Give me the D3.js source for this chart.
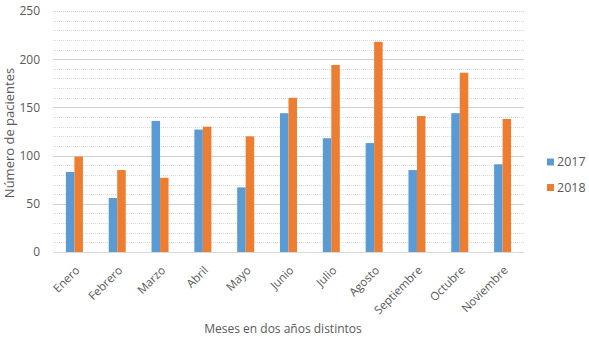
<!DOCTYPE html>
<html>
<head>
<meta charset="utf-8">
<script src="https://cdn.jsdelivr.net/npm/d3@7"></script>
<style>
  body { margin: 0; background: #fff; }
  text { font-family: "Open Sans", sans-serif; fill: #595959; }
</style>
</head>
<body>
<div id="chart"></div>
<script>
// data
const months = ["Enero", "Febrero", "Marzo", "Abril", "Mayo", "Junio", "Julio", "Agosto", "Septiembre", "Octubre", "Noviembre"];
const years = ["2017", "2018"];
const values2017 = [83, 56, 136, 127, 67, 144, 118, 113, 85, 144, 91];
const values2018 = [99, 85, 77, 130, 120, 160, 194, 218, 141, 186, 138];
const yTicks = [0, 50, 100, 150, 200, 250];
const colors = ["#5B9BD5", "#ED7D31"];

const W = 589, H = 338;
const margin = { top: 11, right: 65, bottom: 86, left: 53 },
    width = W - margin.left - margin.right,
    height = H - margin.top - margin.bottom;

const svg = d3.select("#chart")
    .append("svg")
    .attr("width", W)
    .attr("height", H)
    .append("g")
    .attr("transform", `translate(${margin.left},${margin.top})`);

const x = d3.scaleBand()
    .domain(months)
    .range([0, width]);

const x1 = d3.scaleBand()
    .domain(years)
    .range([x.bandwidth() / 2 - 8.5, x.bandwidth() / 2 + 8.5]);

const y = d3.scaleLinear()
    .domain([0, 250])
    .range([height, 0]);

// minor gridlines (every 10)
svg.append("g")
    .selectAll("line")
    .data(d3.range(10, 250, 10).filter(v => v % 50 !== 0))
    .join("line")
    .attr("x1", 0).attr("x2", width)
    .attr("y1", d => Math.round(y(d)) + 0.5)
    .attr("y2", d => Math.round(y(d)) + 0.5)
    .attr("stroke", "#d9d9d9")
    .attr("stroke-dasharray", "1,1");

// major gridlines
svg.append("g")
    .selectAll("line")
    .data(yTicks.slice(1))
    .join("line")
    .attr("x1", 0).attr("x2", width)
    .attr("y1", d => Math.round(y(d)) + 0.5)
    .attr("y2", d => Math.round(y(d)) + 0.5)
    .attr("stroke", "#d0d0d0")
    .attr("stroke-dasharray", d => d === 250 ? "1,1" : null);

// Y axis
const yAxis = svg.append("g")
    .call(d3.axisLeft(y).tickValues(yTicks).tickSize(0).tickPadding(13));
yAxis.select(".domain").remove();
yAxis.selectAll("text")
    .style("font-size", "12px")
    .attr("fill", "#595959");

// bars
const series = [values2017, values2018];
years.forEach((yr, i) => {
    svg.append("g")
        .selectAll("rect")
        .data(months)
        .join("rect")
        .attr("x", (d) => x(d) + x1(yr))
        .attr("y", (d, j) => y(series[i][j]))
        .attr("width", x1.bandwidth())
        .attr("height", (d, j) => height - y(series[i][j]))
        .attr("fill", colors[i]);
});

// X axis
const xAxis = svg.append("g")
    .attr("transform", `translate(0, ${height})`)
    .call(d3.axisBottom(x).tickSize(0));
xAxis.select(".domain").attr("stroke", "#d9d9d9");
xAxis.selectAll("text")
    .style("font-size", "11.5px")
    .attr("fill", "#595959")
    .attr("text-anchor", "end")
    .attr("x", 0)
    .attr("y", 0)
    .attr("dy", 0)
    .attr("transform", "translate(6, 19) rotate(-45)");

// axis titles
svg.append("text")
    .attr("transform", `translate(${-44}, ${122}) rotate(-90)`)
    .attr("text-anchor", "middle")
    .attr("dy", "0.35em")
    .style("font-size", "13px")
    .text("Número de pacientes");

svg.append("text")
    .attr("x", 283 - margin.left)
    .attr("y", 333 - margin.top)
    .attr("text-anchor", "middle")
    .style("font-size", "12px")
    .text("Meses en dos años distintos");

// legend
const legend = svg.append("g")
    .attr("transform", `translate(${width + 23}, 0)`);
years.forEach((yr, i) => {
    const g = legend.append("g")
        .attr("transform", `translate(0, ${151 + i * 25.5})`);
    g.append("rect")
        .attr("x", 0).attr("y", -3.5)
        .attr("width", 7).attr("height", 7)
        .attr("fill", colors[i]);
    g.append("text")
        .attr("x", 10)
        .attr("dy", "0.35em")
        .style("font-size", "12.5px")
        .text(yr);
});
</script>
</body>
</html>
